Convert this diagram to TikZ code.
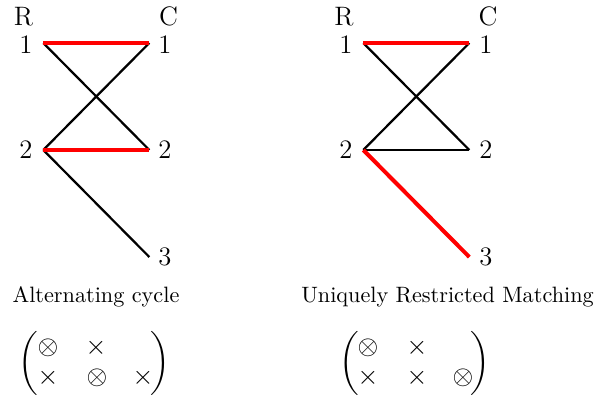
\documentclass[tikz,border=0pt]{standalone}
\usepackage{amsmath}
\begin{document}
\begin{tikzpicture}[x=0.45pt,y=-0.45pt,
  edge/.style={line width=1pt, black},
  medge/.style={line width=1.8pt, red},
  lbl/.style={font=\large, inner sep=0pt},
  sym/.style={font=\large, inner sep=0pt},
  captxt/.style={anchor=base, inner sep=0pt}]
\useasboundingbox (0,0) rectangle (594,401);
% left graph
\coordinate (ar1) at (43.3,43);
\coordinate (ar2) at (43.3,150);
\coordinate (ac1) at (149.3,43);
\coordinate (ac2) at (149.3,150);
\coordinate (ac3) at (149.3,257);
\node[lbl] (aR) at (23.5,17) {R};
\node[lbl] (aC) at (168.5,16.5) {C};
\node[lbl] (al1) at (26,45) {1};
\node[lbl] (al2) at (26,150) {2};
\node[lbl] (ar1l) at (165,45) {1};
\node[lbl] (ar2l) at (165,150) {2};
\node[lbl] (ar3l) at (165,257) {3};
\draw[edge] (ar1) -- (ac2);
\draw[edge] (ar2) -- (ac1);
\draw[edge] (ar2) -- (ac3);
\draw[medge] (ar1) -- (ac1);
\draw[medge] (ar2) -- (ac2);
% right graph
\coordinate (br1) at (363.3,43);
\coordinate (br2) at (363.3,150);
\coordinate (bc1) at (469.3,43);
\coordinate (bc2) at (469.3,150);
\coordinate (bc3) at (469.3,257);
\node[lbl] (bR) at (344,17) {R};
\node[lbl] (bC) at (488,16.5) {C};
\node[lbl] (bl1) at (346,45) {1};
\node[lbl] (bl2) at (346,150) {2};
\node[lbl] (br1l) at (486,45) {1};
\node[lbl] (br2l) at (486,150) {2};
\node[lbl] (br3l) at (486,257) {3};
\draw[edge] (br1) -- (bc2);
\draw[edge] (br2) -- (bc1);
\draw[edge] (br2) -- (bc2);
\draw[medge] (br1) -- (bc1);
\draw[medge] (br2) -- (bc3);
% captions
\node[captxt] (acap) at (96,302.7) {Alternating cycle};
\node[captxt] (bcap) at (447.5,302.7) {Uniquely Restricted Matching};
% left matrix
\node[sym] (am11) at (48,348) {$\otimes$};
\node[sym] (am12) at (96,348) {$\times$};
\node[sym] (am21) at (48,378) {$\times$};
\node[sym] (am22) at (97,378) {$\otimes$};
\node[sym] (am23) at (143,378) {$\times$};
\node[sym] (alp) at (28,363.5) {$\biggl($};
\node[sym] (arp) at (160,363.5) {$\biggr)$};
% right matrix
\node[sym] (bm11) at (368,348) {$\otimes$};
\node[sym] (bm12) at (417,348) {$\times$};
\node[sym] (bm21) at (368,378) {$\times$};
\node[sym] (bm22) at (417,378) {$\times$};
\node[sym] (bm23) at (463,378) {$\otimes$};
\node[sym] (blp) at (349.5,363.5) {$\biggl($};
\node[sym] (brp) at (480.5,363.5) {$\biggr)$};
\end{tikzpicture}
\end{document}
